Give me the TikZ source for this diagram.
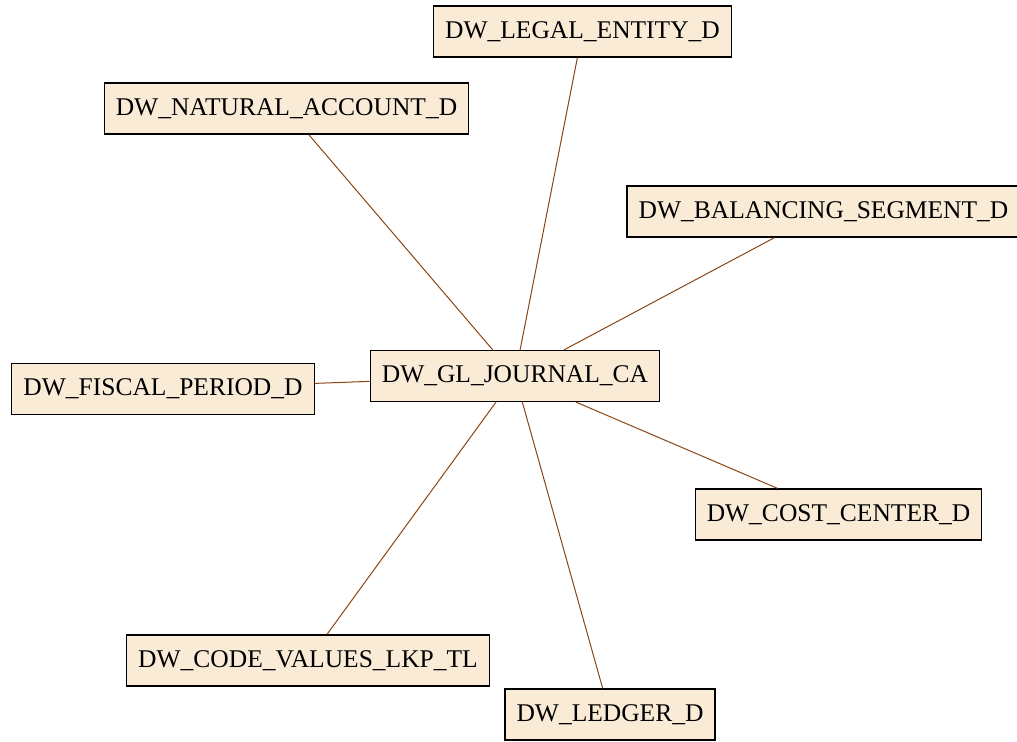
\documentclass[tikz,border=0pt]{standalone}
\usepackage{fontspec}
\setmainfont{Liberation Serif}
\definecolor{tblfill}{HTML}{FAEBD7}
\definecolor{tbledge}{HTML}{8B4513}

\begin{document}
\begin{tikzpicture}[x=0.5pt,y=-0.5pt,
    tbl/.style={draw=black, fill=tblfill, line width=0.6pt, inner xsep=5.8pt,
      minimum height=25.5pt, font=\fontsize{12.75}{15}\selectfont},
    link/.style={draw=tbledge, line width=0.5pt}]

    \useasboundingbox (0,0) rectangle (1017,742);

    \node[tbl] (fact) at (515,376) {DW\_GL\_JOURNAL\_CA};

    \node[tbl] (legal) at (582.5,31.5) {DW\_LEGAL\_ENTITY\_D};
    \node[tbl] (natacct) at (286.5,108.5) {DW\_NATURAL\_ACCOUNT\_D};
    \node[tbl] (balseg) at (823.5,211.5) {DW\_BALANCING\_SEGMENT\_D};
    \node[tbl] (fiscal) at (163,389) {DW\_FISCAL\_PERIOD\_D};
    \node[tbl] (costctr) at (838.5,514.5) {DW\_COST\_CENTER\_D};
    \node[tbl] (codeval) at (308,660.5) {DW\_CODE\_VALUES\_LKP\_TL};
    \node[tbl] (ledger) at (610,714.5) {DW\_LEDGER\_D};

    \foreach \dim in
    {legal,natacct,balseg,fiscal,costctr,codeval,ledger}
    {
      \draw[link] (fact) -- (\dim);
    }
  \end{tikzpicture}
\end{document}
